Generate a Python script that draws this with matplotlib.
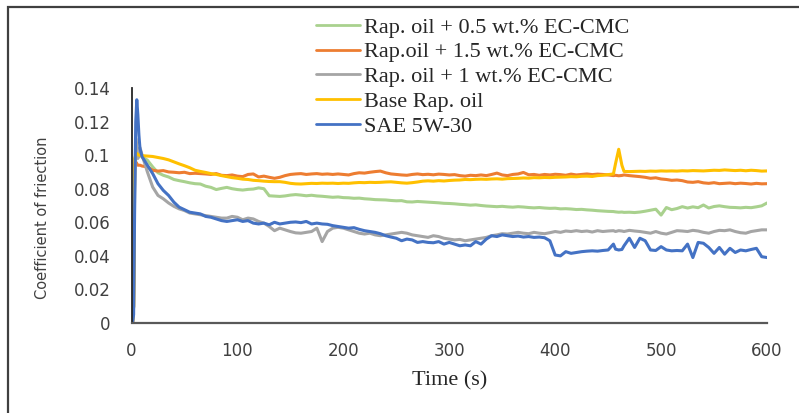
import matplotlib
matplotlib.use("Agg")
import matplotlib.pyplot as plt
from matplotlib.patches import Rectangle
from matplotlib.font_manager import FontProperties

time_s = [0, 1, 2, 3, 4, 5, 6, 7, 8, 10,
          15, 20, 25, 30, 35, 40, 45, 50, 55, 60,
          65, 70, 75, 80, 85, 90, 95, 100, 105, 110,
          115, 120, 125, 130, 135, 140, 145, 150, 155, 160,
          165, 170, 175, 180, 185, 190, 195, 200, 205, 210,
          215, 220, 225, 230, 235, 240, 245, 250, 255, 260,
          265, 270, 275, 280, 285, 290, 295, 300, 305, 310,
          315, 320, 325, 330, 335, 340, 345, 350, 355, 360,
          365, 370, 375, 380, 385, 390, 395, 400, 405, 410,
          415, 420, 425, 430, 435, 440, 445, 450, 455, 457,
          460, 463, 465, 470, 475, 480, 485, 490, 495, 500,
          505, 510, 515, 520, 525, 530, 535, 540, 545, 550,
          555, 560, 565, 570, 575, 580, 585, 590, 595, 600]

rap_05 = [0, 0, 0.01, 0.09, 0.098, 0.1, 0.101, 0.101, 0.1, 0.099,
          0.097, 0.093, 0.0895, 0.088, 0.087, 0.0855, 0.0848, 0.0842, 0.0835, 0.083,
          0.0828, 0.0815, 0.0808, 0.0795, 0.0802, 0.0808, 0.080, 0.0795, 0.0792, 0.0796,
          0.0798, 0.0805, 0.080, 0.0758, 0.0756, 0.0754, 0.0757, 0.0762, 0.0765, 0.0762,
          0.0758, 0.0761, 0.0757, 0.0755, 0.0752, 0.0749, 0.0751, 0.0747, 0.0746, 0.0743,
          0.0744, 0.074, 0.0738, 0.0735, 0.0734, 0.0733, 0.073, 0.0728, 0.0729, 0.0722,
          0.0721, 0.0724, 0.0722, 0.072, 0.0718, 0.0716, 0.0713, 0.0712, 0.071, 0.0707,
          0.0705, 0.0702, 0.0704, 0.070, 0.0697, 0.0695, 0.0693, 0.0695, 0.0692, 0.069,
          0.0693, 0.0691, 0.0688, 0.0686, 0.0688, 0.0685, 0.0683, 0.0684, 0.068, 0.0681,
          0.0679, 0.0676, 0.0677, 0.0674, 0.0672, 0.0669, 0.0667, 0.0665, 0.0664, 0.0662,
          0.066, 0.0661, 0.0659, 0.066, 0.0658, 0.0661, 0.0666, 0.0672, 0.0678, 0.0643,
          0.0688, 0.0675, 0.0682, 0.0693, 0.0685, 0.0692, 0.0687, 0.0703, 0.0685, 0.0694,
          0.0698, 0.0693, 0.0689, 0.0688, 0.0686, 0.0689, 0.0687, 0.0692, 0.0698, 0.0715]

rap_15 = [0, 0, 0.01, 0.094, 0.096, 0.095, 0.094, 0.094, 0.094, 0.0935,
          0.093, 0.091, 0.0905, 0.0908, 0.090, 0.0898, 0.0895, 0.0898, 0.089, 0.0892,
          0.089, 0.0888, 0.0885, 0.089, 0.088, 0.0878, 0.0882, 0.0875, 0.0872, 0.0885,
          0.0888, 0.087, 0.0875, 0.0868, 0.0862, 0.0868, 0.0878, 0.0885, 0.0888, 0.089,
          0.0885, 0.0888, 0.089, 0.0886, 0.0888, 0.0885, 0.0888, 0.0885, 0.0882, 0.089,
          0.0895, 0.0893, 0.0898, 0.0902, 0.0905, 0.0895, 0.0888, 0.0885, 0.0882, 0.088,
          0.0885, 0.0888, 0.0884, 0.0886, 0.0883, 0.0887, 0.0885, 0.0882, 0.0884, 0.0878,
          0.0875, 0.088, 0.0878, 0.0882, 0.0878, 0.0885, 0.0893, 0.0882, 0.0878, 0.0885,
          0.0888, 0.0897, 0.0883, 0.0885, 0.088, 0.0885, 0.0882, 0.0886, 0.0884, 0.088,
          0.0887, 0.0882, 0.0885, 0.0888, 0.0884, 0.0887, 0.0885, 0.0882, 0.0878, 0.088,
          0.0877, 0.0879, 0.0882, 0.0878, 0.0875, 0.0872, 0.0868, 0.0862, 0.0865, 0.0858,
          0.0855, 0.085, 0.0852, 0.0848, 0.084, 0.0838, 0.0842, 0.0835, 0.0832, 0.0836,
          0.083, 0.0832, 0.0834, 0.083, 0.0833, 0.0831, 0.0828, 0.0832, 0.0829, 0.083]

rap_1 = [0, 0, 0.01, 0.08, 0.11, 0.105, 0.098, 0.100, 0.1045, 0.100,
         0.090, 0.081, 0.076, 0.074, 0.0715, 0.0695, 0.068, 0.067, 0.0655, 0.065,
         0.0645, 0.064, 0.0635, 0.063, 0.0625, 0.0625, 0.0635, 0.063, 0.0615, 0.0625,
         0.062, 0.0605, 0.0595, 0.0575, 0.055, 0.0565, 0.0555, 0.0545, 0.0537, 0.0535,
         0.054, 0.0545, 0.0565, 0.0485, 0.0545, 0.0565, 0.057, 0.0565, 0.0555, 0.0545,
         0.0535, 0.053, 0.0535, 0.0525, 0.052, 0.0525, 0.053, 0.0535, 0.054, 0.0535,
         0.0525, 0.052, 0.0515, 0.051, 0.052, 0.0515, 0.0505, 0.050, 0.0495, 0.0498,
         0.049, 0.0495, 0.050, 0.0505, 0.051, 0.052, 0.0525, 0.0532, 0.053, 0.0535,
         0.054, 0.0535, 0.0532, 0.054, 0.0535, 0.0532, 0.0538, 0.0545, 0.054, 0.0548,
         0.0545, 0.055, 0.0545, 0.0548, 0.0542, 0.055, 0.0545, 0.0548, 0.055, 0.0545,
         0.055, 0.0548, 0.0545, 0.0552, 0.0548, 0.0545, 0.054, 0.0535, 0.0545, 0.0535,
         0.053, 0.054, 0.055, 0.0548, 0.0545, 0.0552, 0.0548, 0.054, 0.0535, 0.0545,
         0.0552, 0.055, 0.0555, 0.0545, 0.0538, 0.0535, 0.0545, 0.055, 0.0555, 0.0555]

base_rap = [0, 0, 0.01, 0.098, 0.1, 0.101, 0.1005, 0.1, 0.0998, 0.0997,
            0.0994, 0.0992, 0.0986, 0.098, 0.0972, 0.096, 0.0948, 0.0937, 0.0925, 0.091,
            0.0903, 0.0897, 0.089, 0.0885, 0.0878, 0.0872, 0.0866, 0.0862, 0.0857, 0.0855,
            0.085, 0.0848, 0.0845, 0.0843, 0.0842, 0.0842, 0.0838, 0.0832, 0.0829, 0.0828,
            0.083, 0.0832, 0.0831, 0.0833, 0.0832, 0.0833, 0.0831, 0.0833, 0.0832, 0.0835,
            0.0837, 0.0836, 0.0838, 0.0837, 0.0838, 0.084, 0.0841, 0.0838, 0.0835, 0.0833,
            0.0836, 0.084, 0.0845, 0.0847, 0.0845, 0.0848, 0.0846, 0.0849, 0.0851, 0.0852,
            0.0855, 0.0854, 0.0856, 0.0857, 0.0856, 0.0858, 0.0859, 0.0857, 0.086, 0.0861,
            0.0862, 0.0864, 0.0863, 0.0866, 0.0865, 0.0867, 0.0866, 0.0868, 0.0869, 0.087,
            0.0872, 0.0871, 0.0874, 0.0875, 0.0873, 0.0878, 0.088, 0.0884, 0.0888, 0.095,
            0.1035, 0.094, 0.0903, 0.0902, 0.0903, 0.0904, 0.0903, 0.0905, 0.0904, 0.0906,
            0.0905, 0.0906, 0.0905, 0.0907, 0.0906, 0.0908, 0.0907, 0.0906, 0.0908, 0.091,
            0.0909, 0.0912, 0.091, 0.0908, 0.091, 0.0907, 0.091, 0.0908, 0.0905, 0.0906]

sae_5w30 = [0, 0, 0.005, 0.07, 0.12, 0.133, 0.124, 0.112, 0.104, 0.099,
            0.094, 0.089, 0.083, 0.079, 0.076, 0.072, 0.069, 0.0675, 0.066, 0.0655,
            0.065, 0.0635, 0.063, 0.062, 0.061, 0.0605, 0.061, 0.0615, 0.0605, 0.061,
            0.0595, 0.059, 0.0595, 0.0585, 0.060, 0.059, 0.0595, 0.060, 0.0602, 0.0598,
            0.0605, 0.059, 0.0595, 0.059, 0.0588, 0.058, 0.0575, 0.057, 0.0565, 0.0568,
            0.0558, 0.055, 0.0545, 0.054, 0.0532, 0.052, 0.0512, 0.0505, 0.049, 0.050,
            0.0495, 0.048, 0.0485, 0.048, 0.0478, 0.0485, 0.047, 0.048, 0.047, 0.046,
            0.0465, 0.046, 0.0485, 0.047, 0.050, 0.052, 0.0515, 0.0525, 0.052, 0.0515,
            0.0518, 0.0512, 0.0515, 0.051, 0.0512, 0.0508, 0.049, 0.0405, 0.040, 0.0425,
            0.0415, 0.042, 0.0425, 0.0428, 0.043, 0.0428, 0.0432, 0.0435, 0.047, 0.044,
            0.0435, 0.0438, 0.046, 0.0505, 0.045, 0.0505, 0.049, 0.0435, 0.0432, 0.0455,
            0.0435, 0.043, 0.0432, 0.043, 0.047, 0.039, 0.048, 0.0475, 0.045, 0.0415,
            0.045, 0.041, 0.0445, 0.042, 0.0435, 0.043, 0.0438, 0.0445, 0.0395, 0.039]

labels = ["Rap. oil + 0.5 wt.% EC-CMC", "Rap.oil + 1.5 wt.% EC-CMC",
          "Rap. oil + 1 wt.% EC-CMC", "Base Rap. oil", "SAE 5W-30"]
series = [rap_05, rap_15, rap_1, base_rap, sae_5w30]
colors = ["#A9D18E", "#ED7D31", "#A5A5A5", "#FFC000", "#4472C4"]

x_ticks = [0, 100, 200, 300, 400, 500, 600]
y_ticks = [0, 0.02, 0.04, 0.06, 0.08, 0.1, 0.12, 0.14]
y_tick_labels = ["0", "0.02", "0.04", "0.06", "0.08", "0.1", "0.12", "0.14"]

W, H = 799, 413
fig = plt.figure(figsize=(W / 100, H / 100), dpi=100)
ax = fig.add_axes([131.5 / W, 90 / H, 635.5 / W, 235 / H])

handles = []
for vals, lab, col in zip(series, labels, colors):
    h, = ax.plot(time_s, vals, color=col, lw=2.2, label=lab,
                 solid_joinstyle="round", solid_capstyle="round")
    handles.append(h)

ax.set_xlim(0, 600)
ax.set_ylim(0, 0.14)
ax.set_xticks(x_ticks)
ax.set_yticks(y_ticks)
ax.set_yticklabels(y_tick_labels)
tick_color = "#404040"
ax.tick_params(axis="both", length=0, labelsize=12, labelcolor=tick_color)
ax.tick_params(axis="x", pad=14)
ax.tick_params(axis="y", pad=15)
for s in ["top", "right"]:
    ax.spines[s].set_visible(False)
ax.spines["left"].set_color("#262626")
ax.spines["left"].set_linewidth(1.3)
ax.spines["bottom"].set_color("#595959")
ax.spines["bottom"].set_linewidth(1.6)

serif = FontProperties(family="Liberation Serif", size=16)
leg = ax.legend(handles, labels, loc="upper left",
                bbox_to_anchor=(316 / W, 1 - 17 / H), bbox_transform=fig.transFigure,
                frameon=False, prop=serif, handlelength=2.0, handletextpad=0.15,
                labelspacing=0.19, borderpad=0, borderaxespad=0)
for t in leg.get_texts():
    t.set_color("#262626")
for lh in leg.get_lines():
    lh.set_linewidth(2.0)

fig.text(43 / W, 1 - 217.5 / H, "Coefficient of friection", rotation=90,
         ha="center", va="center", fontsize=10.5, color=tick_color)
fig.text(450 / W, 1 - 381 / H, "Time (s)", ha="center", va="center",
         fontproperties=FontProperties(family="Liberation Serif", size=16),
         color="#262626")

fig.patches.append(Rectangle((8 / W, -0.1), 2.0, (H - 7) / H + 0.1,
                             transform=fig.transFigure, fill=False,
                             ec="#404040", lw=1.6))

fig.savefig("out.png", dpi=100)
